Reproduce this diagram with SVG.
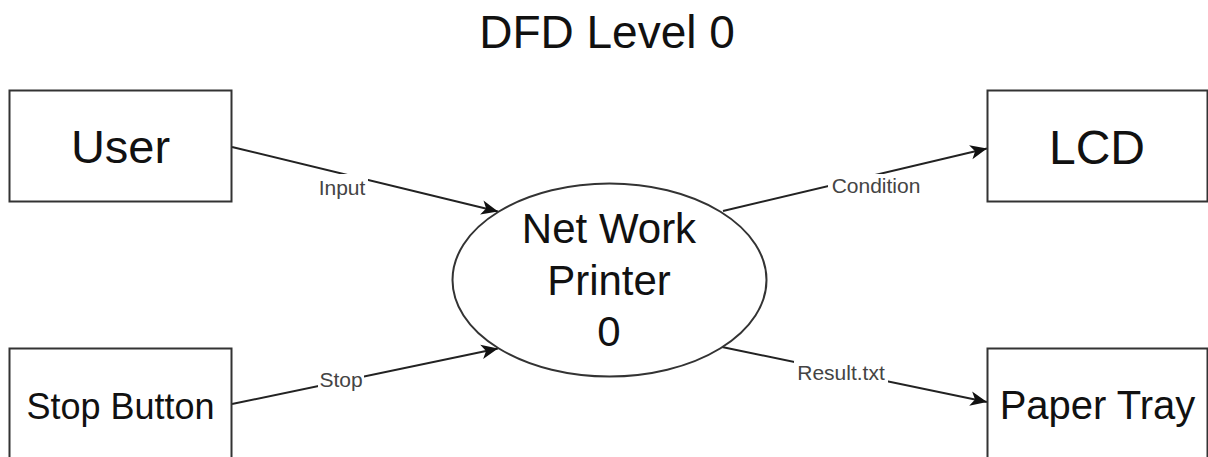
<svg xmlns="http://www.w3.org/2000/svg" width="1208" height="457" viewBox="0 0 1208 457">
<defs>
<style>
.box{fill:#fff;stroke:#333;stroke-width:2}
.t{font-family:"Liberation Sans",Arial,sans-serif;fill:#111;text-anchor:middle}
.edge{fill:none;stroke:#222;stroke-width:2}
.lbl{font-family:"Liberation Sans",Arial,sans-serif;font-size:21px;fill:#444;text-anchor:middle}
.lb{fill:#fff}
</style>
<marker id="arr" markerUnits="userSpaceOnUse" markerWidth="20" markerHeight="20" viewBox="-16 -8 18 16" refX="0" refY="0" orient="auto">
<path d="M0,0 L-15,-6.5 L-11,0 L-15,6.5 Z" fill="#111"/>
</marker>
</defs>
<rect width="1208" height="457" fill="#fff"/>
<text class="t" x="607" y="48" font-size="46">DFD Level 0</text>

<g id="connectors">
<line class="edge" x1="232" y1="147" x2="498" y2="211.5" marker-end="url(#arr)"/>
<line class="edge" x1="232" y1="404" x2="498" y2="348.5" marker-end="url(#arr)"/>
<line class="edge" x1="723" y1="211" x2="987" y2="148.5" marker-end="url(#arr)"/>
<line class="edge" x1="722" y1="347" x2="987" y2="402" marker-end="url(#arr)"/>
<rect class="lb" x="317" y="174" width="51" height="25"/>
<text class="lbl" x="342" y="195">Input</text>
<rect class="lb" x="318" y="370" width="46" height="24"/>
<text class="lbl" x="341" y="387">Stop</text>
<rect class="lb" x="828" y="174" width="97" height="24"/>
<text class="lbl" x="876" y="193">Condition</text>
<rect class="lb" x="794" y="361" width="94" height="24"/>
<text class="lbl" x="841" y="380">Result.txt</text>
</g>

<g id="user">
<rect class="box" x="9.5" y="90.5" width="222" height="111"/>
<text class="t" x="120.5" y="163" font-size="47">User</text>
</g>
<g id="stop-button">
<rect class="box" x="9.5" y="348.5" width="222" height="120"/>
<text class="t" x="120.5" y="419" font-size="36">Stop Button</text>
</g>
<g id="lcd">
<rect class="box" x="987.5" y="90.5" width="220" height="111"/>
<text class="t" x="1097" y="164" font-size="48">LCD</text>
</g>
<g id="paper-tray">
<rect class="box" x="987.5" y="348.5" width="220" height="120"/>
<text class="t" x="1097.5" y="419" font-size="40">Paper Tray</text>
</g>
<g id="process">
<ellipse cx="609.5" cy="280" rx="157" ry="96.5" fill="#fff" stroke="#333" stroke-width="2"/>
<text class="t" x="609" y="243" font-size="42">Net Work</text>
<text class="t" x="609" y="295" font-size="42">Printer</text>
<text class="t" x="609" y="346" font-size="42">0</text>
</g>
</svg>
